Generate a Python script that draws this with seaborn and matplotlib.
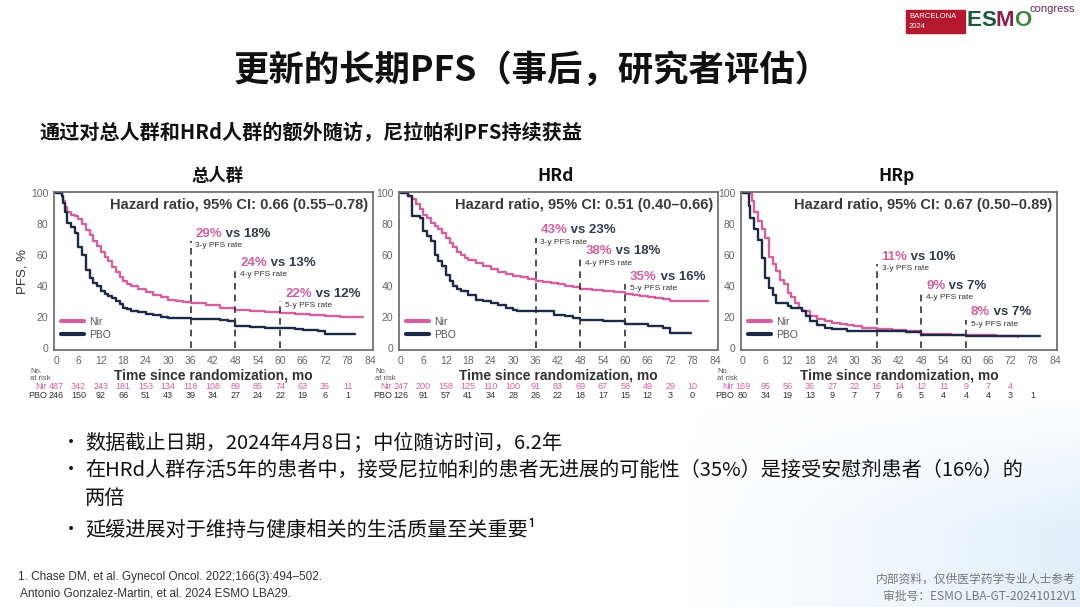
import numpy as np
import pandas as pd
import matplotlib
matplotlib.use("Agg")
import matplotlib.pyplot as plt
from matplotlib.ticker import MultipleLocator, FixedLocator
from matplotlib.lines import Line2D
from matplotlib.text import Annotation
import seaborn as sns

sns.set_style("white")
plt.rcParams['font.family'] = ['Liberation Sans', 'Noto Sans CJK SC', 'DejaVu Sans']
CJK = ['Noto Sans CJK SC', 'DejaVu Sans']

# ---------------- data ----------------
panel_titles = ["总人群", "HRd", "HRp"]
hazard_text = ["Hazard ratio, 95% CI: 0.66 (0.55–0.78)",
               "Hazard ratio, 95% CI: 0.51 (0.40–0.66)",
               "Hazard ratio, 95% CI: 0.67 (0.50–0.89)"]

# Panel 1: overall population
p1_nir_t = [0, 1.5, 2, 2.5, 3, 4, 5, 6, 7, 8, 9, 10, 11, 12, 13, 14, 15, 16, 17, 18, 19, 20, 22, 24, 26, 28, 30, 32, 34, 36, 40, 44, 48, 52, 56, 60, 64, 68, 72, 76, 82]
p1_nir_s = [100, 98, 95, 91, 88, 86, 85, 83, 80, 76, 73, 69, 66, 62, 59, 56, 52, 49, 46, 43, 41, 40, 38, 36, 34, 32.5, 31, 30, 29.5, 29, 27.5, 26, 24.5, 23.8, 23, 22.5, 21.5, 21, 20.4, 19.8, 19.7]
p1_pbo_t = [0, 1.5, 2, 2.5, 3, 4, 5, 6, 7, 8, 9, 10, 11, 12, 13, 14, 15, 16, 17, 18, 19, 20, 22, 24, 26, 28, 30, 32, 36, 40, 44, 46, 48, 52, 56, 60, 64, 66, 70, 72, 80]
p1_pbo_s = [100, 98, 94, 88, 81, 78, 74, 65, 60, 50, 45, 42, 40, 37, 35, 33.5, 32, 30, 28, 26, 25, 24, 23, 22, 21, 20, 19.5, 19, 18.8, 18.5, 18, 17, 14, 13.5, 13, 12.8, 12.3, 11.7, 10.6, 9, 9]

# Panel 2: HRd
p2_nir_t = [0, 2, 3, 4, 5, 6, 7, 8, 9, 10, 11, 12, 13, 14, 15, 16, 17, 18, 20, 22, 24, 26, 28, 30, 32, 34, 36, 38, 40, 42, 44, 46, 48, 51, 54, 57, 60, 62, 64, 66, 68, 70, 72, 76, 82]
p2_nir_s = [100, 98, 96, 93, 90, 86, 84, 81, 79, 77, 74, 71, 68, 65, 62, 60, 58, 57, 55, 53, 51, 49, 47.4, 46.3, 45.7, 44.6, 43, 42.5, 42, 41, 40, 39, 38.3, 37.5, 36.6, 35.8, 35, 34, 33.3, 32.8, 32.3, 31.2, 30, 30, 30]
p2_pbo_t = [0, 2, 3, 5, 6, 7, 8, 9, 10, 11, 12, 13, 14, 15, 16, 18, 20, 22, 24, 26, 28, 30, 31, 36, 40, 41, 44, 46, 48, 54, 60, 66, 70, 72, 77.5]
p2_pbo_s = [100, 98, 85, 84, 75.5, 72, 69, 60, 56, 53, 47, 43, 40, 38, 36.6, 34.4, 31, 30, 29, 27.5, 25.8, 24.7, 23.6, 23.6, 23.6, 21.4, 20.3, 19.3, 18.2, 17, 15.4, 13.9, 12.8, 9.5, 9.5]

# Panel 3: HRp
p3_nir_t = [0, 2.5, 3, 4, 5, 6, 7, 8, 9, 10, 11, 12, 13, 14, 15, 16, 18, 20, 22, 24, 26, 28, 30, 32, 34, 36, 40, 44, 48, 50, 56, 62, 68, 74]
p3_nir_s = [100, 95, 88, 82, 77, 71, 59, 54, 49.5, 44, 41, 35.5, 33, 29, 26, 23.7, 20.4, 18.3, 17.2, 16, 15.5, 15, 14, 13, 12.5, 11.8, 11.2, 10.8, 9, 8.6, 8.3, 8, 7.5, 7]
p3_pbo_t = [0, 1.5, 2, 3, 4, 5, 6, 7, 8, 9, 12, 13, 16, 17, 18, 20, 22, 24, 28, 36, 38, 44, 48, 60, 72, 80]
p3_pbo_s = [100, 92, 84, 77, 70, 58, 45, 38.7, 34.4, 29, 27, 25.8, 23.7, 20.4, 17.2, 15, 13, 11.8, 10.8, 10.8, 10.8, 10, 8, 7.5, 7.5, 7.5]

# Landmark PFS rates (3-y, 4-y, 5-y)
landmark_months = [36, 48, 60]
landmark_names = ["3-y PFS rate", "4-y PFS rate", "5-y PFS rate"]
p1_rates_nir = ["29%", "24%", "22%"]
p1_rates_pbo = ["18%", "13%", "12%"]
p2_rates_nir = ["43%", "38%", "35%"]
p2_rates_pbo = ["23%", "18%", "16%"]
p3_rates_nir = ["11%", "9%", "8%"]
p3_rates_pbo = ["10%", "7%", "7%"]

# Numbers at risk
risk_months = [0, 6, 12, 18, 24, 30, 36, 42, 48, 54, 60, 66, 72, 78]
p1_risk_nir = [487, 342, 243, 181, 153, 134, 118, 108, 89, 85, 74, 63, 35, 11]
p1_risk_pbo = [246, 150, 92, 66, 51, 43, 39, 34, 27, 24, 22, 19, 6, 1]
p2_risk_nir = [247, 200, 158, 125, 110, 100, 91, 83, 69, 67, 58, 49, 29, 10]
p2_risk_pbo = [126, 91, 57, 41, 34, 28, 26, 22, 18, 17, 15, 12, 3, 0]
p3_risk_nir = [169, 95, 56, 36, 27, 22, 16, 14, 12, 11, 9, 7, 4]
p3_risk_pbo = [80, 34, 19, 13, 9, 7, 7, 6, 5, 4, 4, 4, 3, 1]

x_ticks = list(range(0, 85, 6))
y_ticks = [0, 20, 40, 60, 80, 100]

PINK = '#d3609f'
NAVY = '#1c2a46'
GRAY = '#555555'
DARK = '#333a4e'

W, H = 1080, 607
fig = plt.figure(figsize=(W / 100, H / 100), dpi=100)
fig.patch.set_facecolor('white')


def fx(px):
    return px / W


def fy(py):
    return 1 - py / H


def rect(l, t, r, b):
    return [l / W, 1 - b / H, (r - l) / W, (b - t) / H]


# light background decoration (lower right)
bg = fig.add_axes([0, 0, 1, 1], zorder=-5)
bg.set_xlim(0, W)
bg.set_ylim(H, 0)
bg.axis('off')
grad = np.zeros((60, 200, 4))
xs = np.linspace(0, 1, 200)
ys = np.linspace(0, 1, 60)
grad[..., 0] = 0.80
grad[..., 1] = 0.88
grad[..., 2] = 0.95
grad[..., 3] = np.clip((xs[None, :] - 0.1) * 1.0, 0, 1) * np.clip(ys[:, None] * 1.6, 0, 1) * 0.6
bg.imshow(grad, extent=[640, 1080, 607, 395], aspect='auto', interpolation='bilinear')

panels = [
    dict(nir=(p1_nir_t, p1_nir_s), pbo=(p1_pbo_t, p1_pbo_s), rn=p1_rates_nir, rp=p1_rates_pbo,
         kn=p1_risk_nir, kp=p1_risk_pbo, rect=(54, 192, 373, 350), x0=56, x84=370,
         ann_y=[70, 51, 31], title_x=218),
    dict(nir=(p2_nir_t, p2_nir_s), pbo=(p2_pbo_t, p2_pbo_s), rn=p2_rates_nir, rp=p2_rates_pbo,
         kn=p2_risk_nir, kp=p2_risk_pbo, rect=(399, 192, 718, 350), x0=401, x84=715,
         ann_y=[72, 58.5, 42], title_x=556),
    dict(nir=(p3_nir_t, p3_nir_s), pbo=(p3_pbo_t, p3_pbo_s), rn=p3_rates_nir, rp=p3_rates_pbo,
         kn=p3_risk_nir, kp=p3_risk_pbo, rect=(741, 192, 1057, 350), x0=743, x84=1055,
         ann_y=[55, 36, 19], title_x=897),
]

for i, p in enumerate(panels):
    l, t, r, b = p['rect']
    ax = fig.add_axes(rect(l, t, r, b))
    sc = (p['x84'] - p['x0']) / 84.0
    ax.set_xlim(-(p['x0'] - l) / sc, 84 + (r - p['x84']) / sc)
    ax.set_ylim(-1.5, 100.8)

    df = pd.concat([
        pd.DataFrame({'time': p['nir'][0], 'surv': p['nir'][1], 'arm': 'Nir'}),
        pd.DataFrame({'time': p['pbo'][0], 'surv': p['pbo'][1], 'arm': 'PBO'}),
    ], ignore_index=True)
    sns.lineplot(data=df, x='time', y='surv', hue='arm', palette={'Nir': PINK, 'PBO': NAVY},
                 estimator=None, sort=False, drawstyle='steps-post', linewidth=1.7,
                 legend=False, ax=ax)

    for sp in ax.spines.values():
        sp.set_color('#666666')
        sp.set_linewidth(1.2)
    ax.xaxis.set_major_locator(FixedLocator(x_ticks))
    ax.xaxis.set_minor_locator(MultipleLocator(2))
    ax.yaxis.set_major_locator(FixedLocator(y_ticks))
    ax.yaxis.set_minor_locator(MultipleLocator(10))
    ax.tick_params(axis='both', which='major', direction='out', length=3, width=1, color=GRAY,
                   labelsize=7.5, labelcolor='#666666', pad=1)
    ax.tick_params(axis='both', which='minor', direction='out', length=2, width=1, color=GRAY)
    ax.set_xlabel('Time since randomization, mo', fontsize=10, fontweight='bold', color='#333333',
                  labelpad=2)
    ax.set_ylabel('PFS, %' if i == 0 else '', fontsize=9.5, color='#333333', labelpad=2)

    ax.text(0.985, 0.965, hazard_text[i], transform=ax.transAxes, ha='right', va='top',
            fontsize=10.5, fontweight='bold', color='#3a3a3a')

    # landmark lines + annotations
    for m, yb, nm, rn, rp in zip(landmark_months, p['ann_y'], landmark_names, p['rn'], p['rp']):
        ax.plot([m, m], [0, yb - 1], color='#333333', lw=1.2, ls=(0, (4, 3)))
        tx = m + 1.3
        t1 = ax.text(tx, yb, rn, color=PINK, fontsize=9.5, fontweight='bold',
                     ha='left', va='bottom')
        ax.annotate(' vs ' + rp, xycoords=t1, xy=(1, 0), va='bottom', ha='left',
                    color=DARK, fontsize=9.5, fontweight='bold')
        ax.text(tx, yb - 1.5, nm, color='#333333', fontsize=6, ha='left', va='top')

    # legend
    leg_handles = [Line2D([0], [0], color=PINK, lw=3), Line2D([0], [0], color=NAVY, lw=3)]
    lg = ax.legend(leg_handles, ['Nir', 'PBO'], loc='lower left', bbox_to_anchor=(0.0, 0.02),
                   frameon=False, handlelength=2.2, handletextpad=0.5,
                   labelspacing=0.25, borderaxespad=0.3, prop={'size': 7.5})
    for txt in lg.get_texts():
        txt.set_color('#555555')

    # numbers at risk
    fig.text(fx(l - 24), fy(375), 'No.\nat risk', fontsize=5.5, color='#555555',
             va='center', ha='left', linespacing=0.9)
    fig.text(fx(p['x0'] - 9), fy(386.5), 'Nir', fontsize=6.5, color=PINK,
             va='center', ha='right')
    fig.text(fx(p['x0'] - 9), fy(395.5), 'PBO', fontsize=6.5, color='#333333',
             va='center', ha='right')
    for m, n in zip(risk_months, p['kn']):
        fig.text(fx(p['x0'] + m * sc), fy(386.5), str(n), fontsize=6.5, color=PINK,
                 ha='center', va='center')
    for m, n in zip(risk_months, p['kp']):
        fig.text(fx(p['x0'] + m * sc), fy(395.5), str(n), fontsize=6.5, color='#333333',
                 ha='center', va='center')

    fig.text(fx(p['title_x']), fy(176), panel_titles[i], fontsize=12.5, fontweight='bold',
             family=CJK, ha='center', va='center', color='#111111')

# Titles
fig.text(fx(532), fy(70), '更新的长期PFS（事后，研究者评估）', fontsize=25.5, fontweight='bold',
         family=CJK, ha='center', va='center', color='#111111')
fig.text(fx(40), fy(133), '通过对总人群和HRd人群的额外随访，尼拉帕利PFS持续获益', fontsize=14.5,
         fontweight='bold', family=CJK, ha='left', va='center', color='#111111')

# Bullets
bullets = [
    (443, True, '数据截止日期，2024年4月8日；中位随访时间，6.2年'),
    (470, True, '在HRd人群存活5年的患者中，接受尼拉帕利的患者无进展的可能性（35%）是接受安慰剂患者（16%）的'),
    (498, False, '两倍'),
    (530, True, '延缓进展对于维持与健康相关的生活质量至关重要¹'),
]
for yy, has_b, txt in bullets:
    if has_b:
        fig.text(fx(62), fy(yy), '•', fontsize=13, family=CJK, ha='left', va='center', color='#111111')
    fig.text(fx(85), fy(yy), txt, fontsize=14.5, family=CJK, ha='left', va='center', color='#111111')

# Footnotes
fig.text(fx(18), fy(577), '1. Chase DM, et al. Gynecol Oncol. 2022;166(3):494–502.', fontsize=8.5,
         ha='left', va='center', color='#333333')
fig.text(fx(20), fy(594), 'Antonio Gonzalez-Martin, et al. 2024 ESMO LBA29.', fontsize=8.5,
         ha='left', va='center', color='#333333')
fig.text(fx(1076), fy(579), '内部资料，仅供医学药学专业人士参考', fontsize=8.5, family=CJK,
         ha='right', va='center', color='#777777')
fig.text(fx(1076), fy(596), '审批号：ESMO LBA-GT-20241012V1', fontsize=8.5, family=CJK,
         ha='right', va='center', color='#777777')

# Logo
bg.add_patch(plt.Rectangle((906, 10), 59, 23, color='#b3182f', zorder=2))
fig.text(fx(909), fy(16), 'BARCELONA', fontsize=5.5, color='white', ha='left', va='center')
fig.text(fx(909), fy(27), '2024', fontsize=5.5, color='white', ha='left', va='center')
last = fig.text(fx(966), fy(31), 'E', fontsize=16, fontweight='bold', color='#1e5a3c',
                ha='left', va='bottom')
for ch, col in zip('SMO', ['#1e5a3c', '#8d1e47', '#3f8a3a']):
    last = fig.add_artist(Annotation(ch, xy=(1, 0), xycoords=last, va='bottom', ha='left',
                                     fontsize=16, fontweight='bold', color=col))
fig.text(fx(1030), fy(9), 'congress', fontsize=8, color='#6a2a55', ha='left', va='center')

fig.savefig('out.png', dpi=100, facecolor='white')
